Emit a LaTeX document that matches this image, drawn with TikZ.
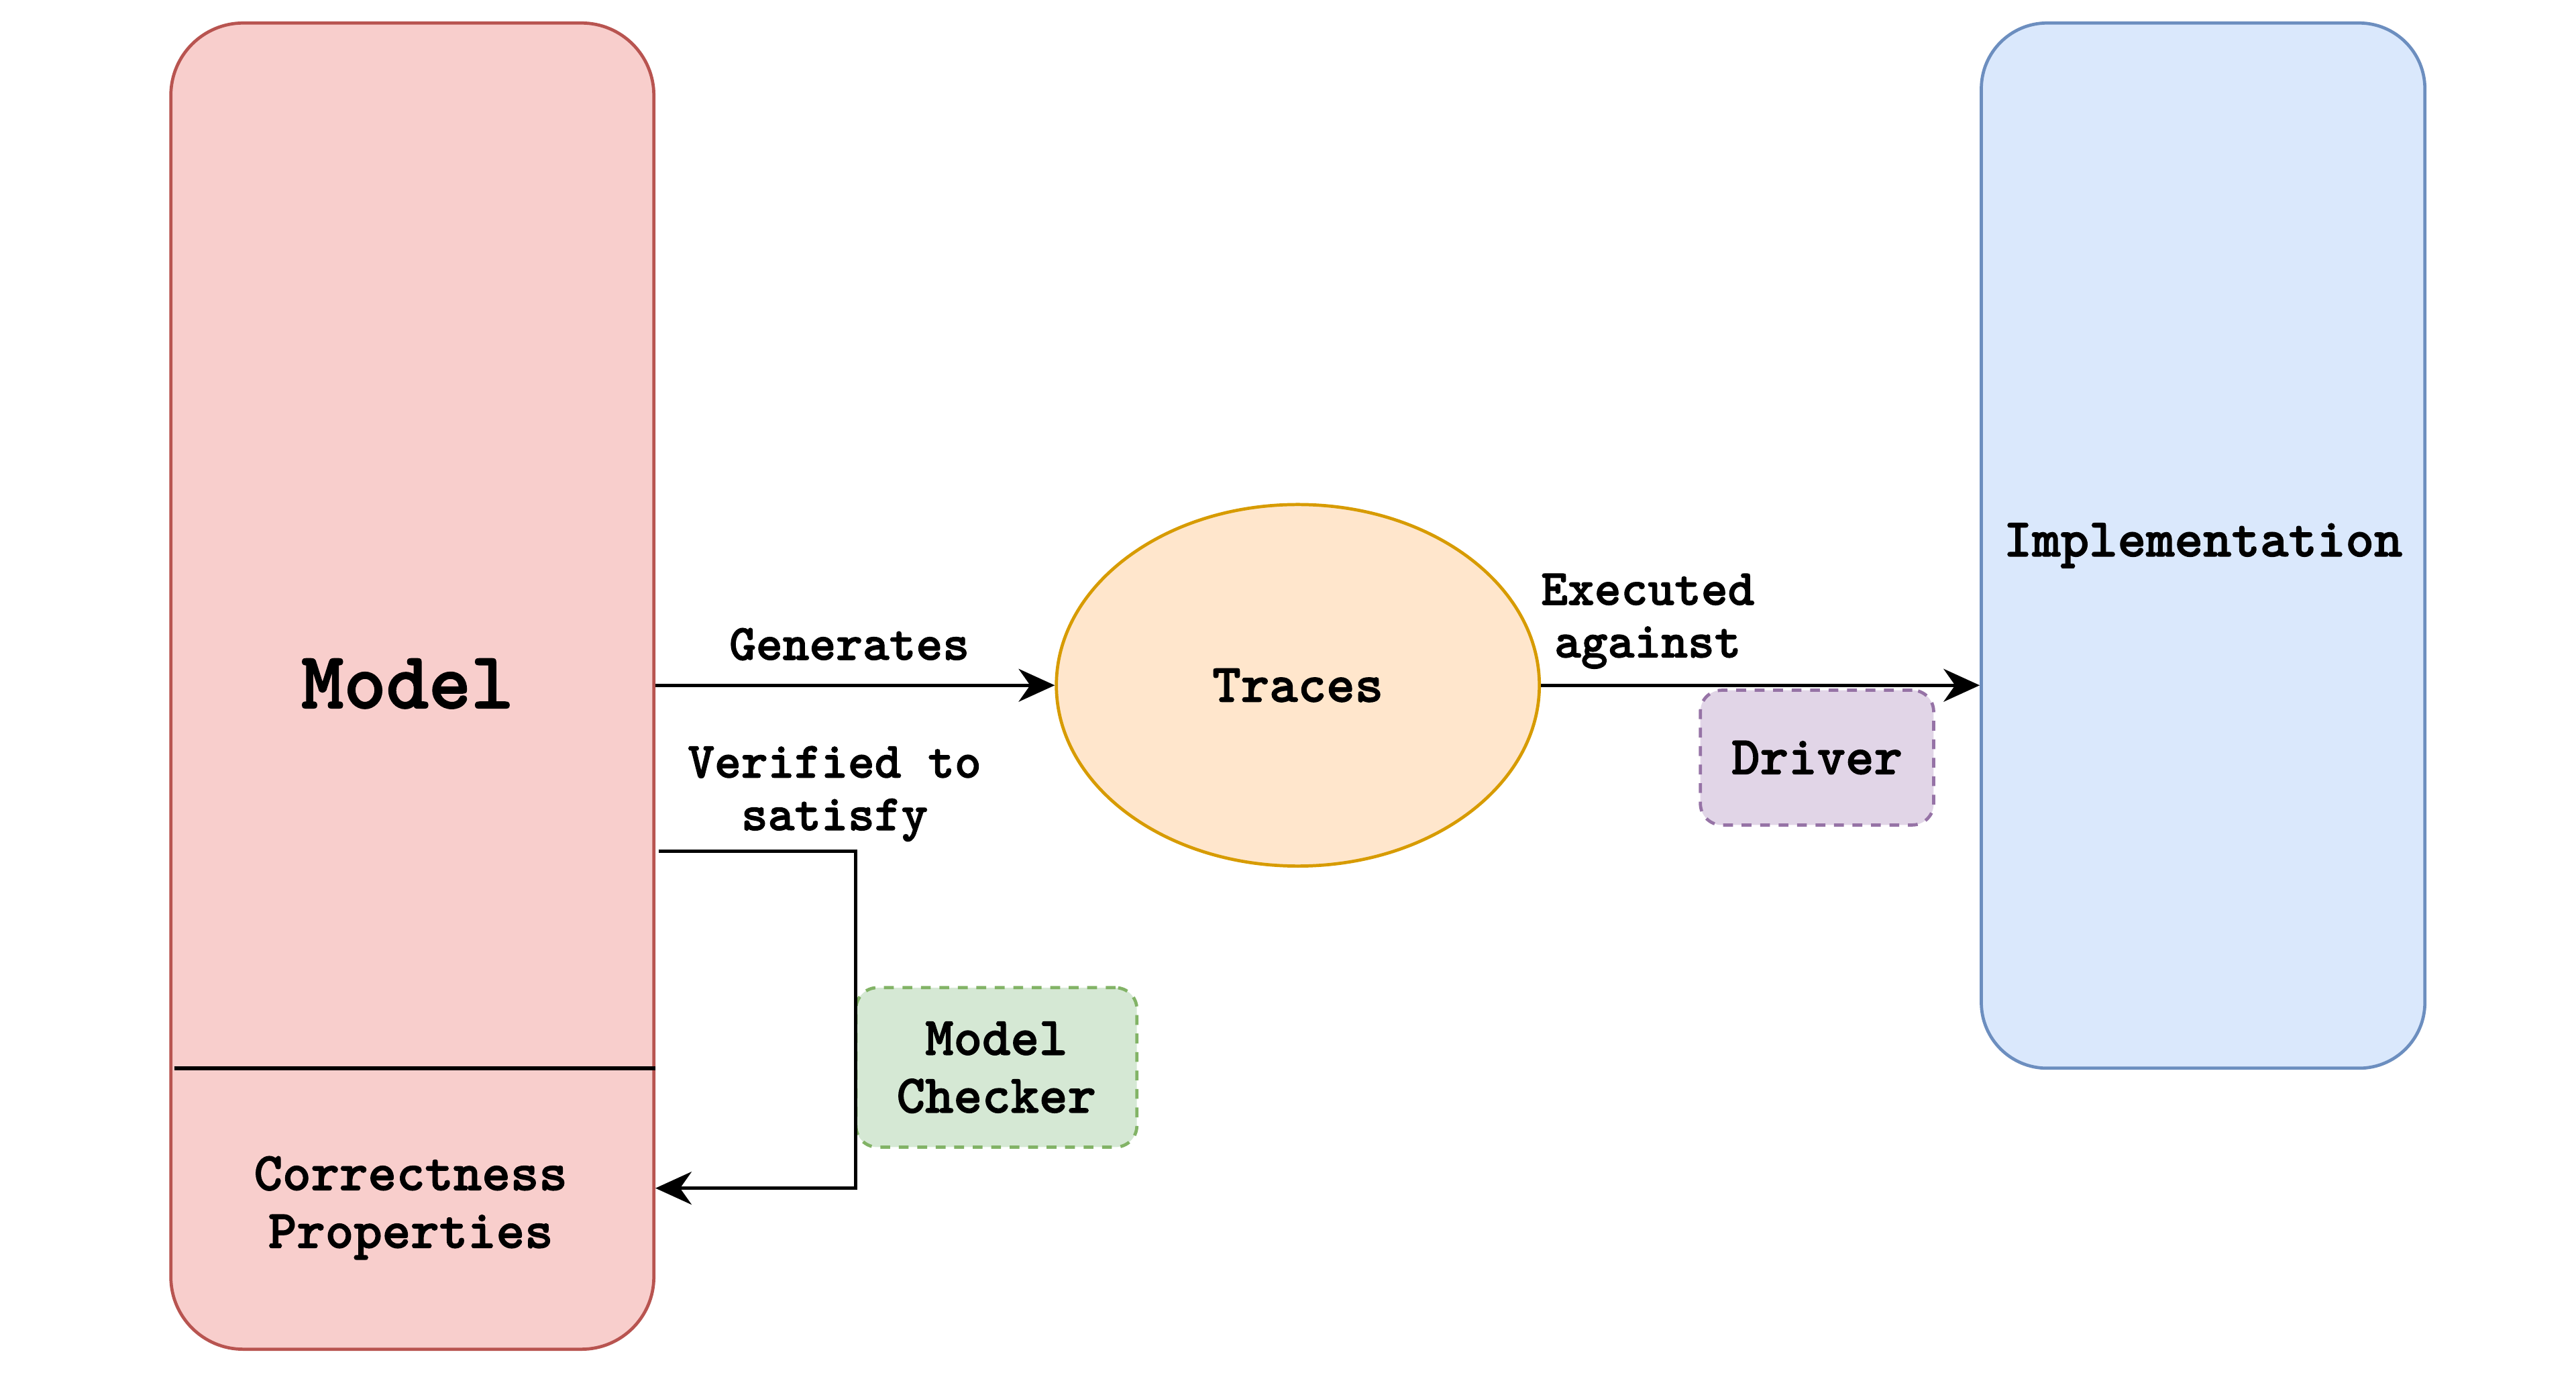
\documentclass[tikz,border=0pt]{standalone}
\usepackage{fontspec}
\newfontfamily\courbf{lmmonolt10-bold}[Extension=.otf,FakeBold=1.6]
\usepackage{tikz}
\usetikzlibrary{arrows.meta,positioning,shapes.geometric,calc}
\definecolor{boxred}{HTML}{F8CECC}
\definecolor{edgered}{HTML}{B85450}
\definecolor{boxblue}{HTML}{DAE8FC}
\definecolor{edgeblue}{HTML}{6C8EBF}
\definecolor{boxorange}{HTML}{FFE6CC}
\definecolor{edgeorange}{HTML}{D79B00}
\definecolor{boxpurple}{HTML}{E1D5E7}
\definecolor{edgepurple}{HTML}{9673A6}
\definecolor{boxgreen}{HTML}{D5E8D4}
\definecolor{edgegreen}{HTML}{82B366}

\begin{document}
\begin{tikzpicture}[
  txt/.style={align=center,font=\courbf\fontsize{9.4}{10}\selectfont},
  lbl/.style={align=center,font=\courbf\fontsize{8.8}{9.1}\selectfont},
  block/.style={txt,line width=0.55pt,inner sep=0pt},
  tag/.style={txt,line width=0.55pt,inner sep=0pt,rounded corners=0.13cm,dash pattern=on 1.7pt off 1.5pt},
  flow/.style={-{Stealth[length=0.22cm,width=0.2cm,inset=0.07cm]},line width=0.55pt}]
\useasboundingbox (0,0) rectangle (15.68,8.39);
% boxes
\node[block,draw=edgered,fill=boxred,rounded corners=0.44cm,minimum width=2.94cm,minimum height=8.07cm] (model) at (2.51,4.215) {};
\draw[line width=0.7pt] ($(model.west)+(0.03,-2.325)$) -- ($(model.east)+(0,-2.325)$);
\node[font=\courbf\fontsize{14}{15}\selectfont] (modeltxt) at (2.48,4.23) {Model};
\node[txt] (props) at (2.50,1.04) {Correctness\\Properties};
\node[block,ellipse,draw=edgeorange,fill=boxorange,minimum width=2.94cm,minimum height=2.2cm] (traces) at (7.90,4.22) {Traces};
\node[block,draw=edgeblue,fill=boxblue,rounded corners=0.4cm,minimum width=2.7cm,minimum height=6.36cm] (impl) at (13.41,5.07) {Implementation};
\node[tag,draw=edgepurple,fill=boxpurple,minimum width=1.42cm,minimum height=0.82cm] (driver) at (11.06,3.78) {Driver};
\node[tag,draw=edgegreen,fill=boxgreen,minimum width=1.71cm,minimum height=0.97cm] (checker) at (6.065,1.895) {Model\\Checker};
% arrows
\draw[flow] (model.east |- traces.west) -- (traces.west);
\node[lbl] (gen) at (5.17,4.47) {Generates};
\draw[flow] (traces.east) -- (traces.east -| impl.west);
\node[lbl] (exec) at (10.03,4.61) {Executed\\against};
\coordinate (vout) at ($(model.east)+(0.02,-1.005)$);
\coordinate (vin) at ($(model.east)+(0,-3.055)$);
\draw[flow] (vout) -- ++(1.2,0) |- (vin);
\node[lbl] (verif) at (5.08,3.56) {Verified to\\satisfy};
\end{tikzpicture}
\end{document}
